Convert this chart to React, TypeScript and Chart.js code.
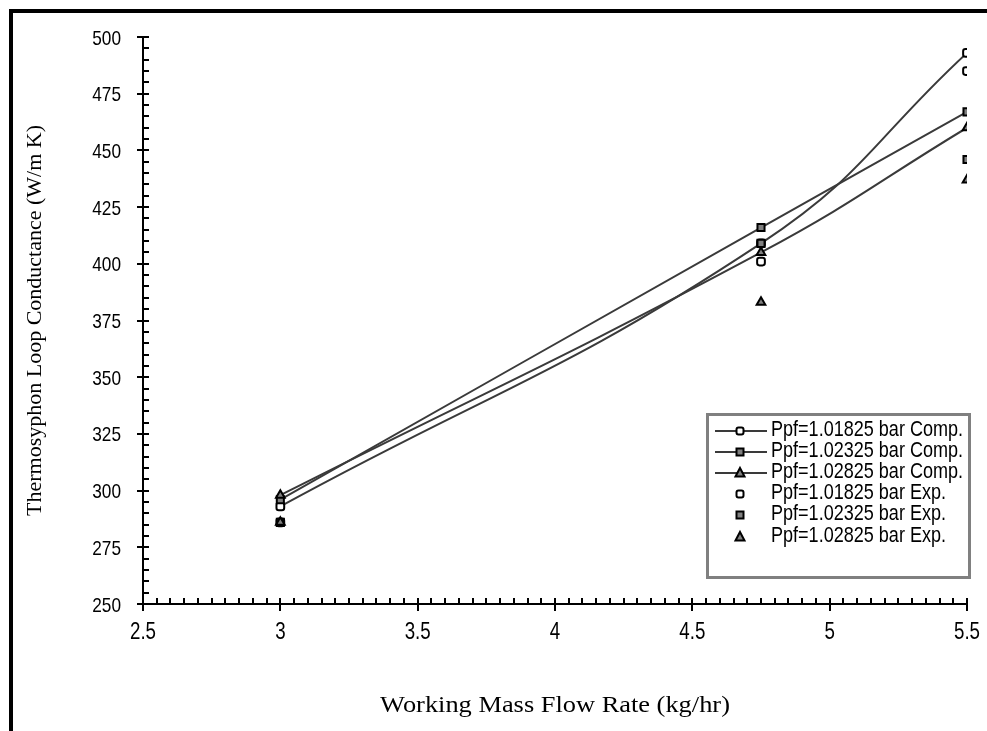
import React, { useEffect, useRef } from 'react';
import { Chart, registerables } from 'chart.js';
Chart.register(...registerables);

const xValues = [3, 4.75, 5.5];
const comp101825 = [293, 409, 493];
const comp102325 = [296, 416, 467];
const comp102825 = [298, 405, 460];
const exp101825 = [286, 401, 485];
const exp102325 = [286, 409, 446];
const exp102825 = [286, 383, 437];
const seriesLabels = [
  'Ppf=1.01825 bar Comp.',
  'Ppf=1.02325 bar Comp.',
  'Ppf=1.02825 bar Comp.',
  'Ppf=1.01825 bar Exp.',
  'Ppf=1.02325 bar Exp.',
  'Ppf=1.02825 bar Exp.',
];
const xTitle = 'Working Mass Flow Rate (kg/hr)';
const yTitle = 'Thermosyphon Loop Conductance (W/m K)';
const xMin = 2.5, xMax = 5.5, xStep = 0.5, xMinor = 0.05;
const yMin = 250, yMax = 500, yStep = 25, yMinor = 5;

const SANS = "'Liberation Sans', Arial, sans-serif";
const SERIF = "'Liberation Serif', 'Times New Roman', serif";
const LINE = '#3a3a3a';
const GRAY = '#808080';

const toPts = (ys: number[]) => xValues.map((x, i) => ({ x, y: ys[i] }));

type Marker = 'rectRounded' | 'rect' | 'triangle';
const markers: Marker[] = ['rectRounded', 'rect', 'triangle', 'rectRounded', 'rect', 'triangle'];
const fills = ['#ffffff', GRAY, GRAY, '#ffffff', GRAY, GRAY];
const radii = [4.5, 5, 5, 4.5, 5, 5];

function drawMarker(ctx: CanvasRenderingContext2D, kind: Marker, x: number, y: number, fill: string) {
  ctx.save();
  ctx.fillStyle = fill;
  ctx.strokeStyle = '#000';
  ctx.lineWidth = 2;
  ctx.beginPath();
  if (kind === 'rect') {
    ctx.rect(x - 3.5, y - 3.5, 7, 7);
  } else if (kind === 'rectRounded') {
    const s = 3.5, r = 2;
    ctx.moveTo(x - s + r, y - s);
    ctx.arcTo(x + s, y - s, x + s, y + s, r);
    ctx.arcTo(x + s, y + s, x - s, y + s, r);
    ctx.arcTo(x - s, y + s, x - s, y - s, r);
    ctx.arcTo(x - s, y - s, x + s, y - s, r);
    ctx.closePath();
  } else {
    ctx.moveTo(x, y - 5);
    ctx.lineTo(x + 4.5, y + 3.5);
    ctx.lineTo(x - 4.5, y + 3.5);
    ctx.closePath();
  }
  ctx.fill();
  ctx.stroke();
  ctx.restore();
}

function drawText(
  ctx: CanvasRenderingContext2D, text: string, x: number, y: number,
  font: string, sx: number, align: CanvasTextAlign,
) {
  ctx.save();
  ctx.translate(x, y);
  ctx.scale(sx, 1);
  ctx.font = font;
  ctx.textAlign = align;
  ctx.textBaseline = 'alphabetic';
  ctx.fillStyle = '#000';
  ctx.fillText(text, 0, 0);
  ctx.restore();
}

const fmt = (v: number) => String(Math.round(v * 100) / 100);

const axesPlugin = {
  id: 'customAxes',
  afterDraw(chart: any) {
    const ctx: CanvasRenderingContext2D = chart.ctx;
    const xs = chart.scales.x;
    const ys = chart.scales.y;
    const { left, right, top, bottom } = chart.chartArea;
    ctx.save();
    ctx.strokeStyle = '#000';
    ctx.lineWidth = 2;
    ctx.beginPath();
    ctx.moveTo(left, top);
    ctx.lineTo(left, bottom);
    ctx.moveTo(left, bottom);
    ctx.lineTo(right + 1, bottom);
    const ny = Math.round((yMax - yMin) / yMinor);
    for (let i = 0; i <= ny; i++) {
      const v = yMin + i * yMinor;
      const y = Math.round(ys.getPixelForValue(v));
      const major = i % Math.round(yStep / yMinor) === 0;
      ctx.moveTo(major ? left - 6 : left, y);
      ctx.lineTo(left + 6, y);
    }
    const nx = Math.round((xMax - xMin) / xMinor);
    for (let i = 0; i <= nx; i++) {
      const v = xMin + i * xMinor;
      const x = Math.round(xs.getPixelForValue(v));
      const major = i % Math.round(xStep / xMinor) === 0;
      ctx.moveTo(x, bottom - 6);
      ctx.lineTo(x, major ? bottom + 7 : bottom);
    }
    ctx.stroke();

    ys.ticks.forEach((t: any) => {
      const y = ys.getPixelForValue(t.value);
      drawText(ctx, fmt(t.value), left - 22, y + 7.5, `21px ${SANS}`, 0.82, 'right');
    });
    xs.ticks.forEach((t: any) => {
      const x = xs.getPixelForValue(t.value);
      drawText(ctx, fmt(t.value), x, bottom + 35, `24px ${SANS}`, 0.78, 'center');
    });
    drawText(ctx, xTitle, (left + right) / 2, 712, `24px ${SERIF}`, 1.1, 'center');

    // legend
    const bx = 707, by = 414, bw = 262, bh = 163;
    ctx.fillStyle = '#fff';
    ctx.fillRect(bx, by, bw, bh);
    ctx.strokeStyle = GRAY;
    ctx.lineWidth = 3;
    ctx.strokeRect(bx + 0.5, by + 0.5, bw, bh);
    const rows = [428, 449, 470, 491, 512, 534];
    chart.data.datasets.forEach((ds: any, i: number) => {
      const y = rows[i];
      if (ds.showLine) {
        ctx.strokeStyle = LINE;
        ctx.lineWidth = 2;
        ctx.beginPath();
        ctx.moveTo(715, y + 3);
        ctx.lineTo(767, y + 3);
        ctx.stroke();
      }
      drawMarker(ctx, markers[i], 740, y + 3, fills[i]);
      drawText(ctx, ds.label, 771, y + 8, `22px ${SANS}`, 0.82, 'left');
    });
    ctx.restore();
  },
};

export default function App() {
  const ref = useRef<HTMLCanvasElement | null>(null);
  useEffect(() => {
    if (!ref.current) return;
    const series = [comp101825, comp102325, comp102825, exp101825, exp102325, exp102825];
    const orders = [5, 4, 3, 2, 1, 0];
    const chart = new Chart(ref.current, {
      type: 'scatter',
      data: {
        datasets: series.map((s, i) => ({
          label: seriesLabels[i],
          data: toPts(s),
          showLine: i < 3,
          tension: 0.45,
          borderColor: i < 3 ? LINE : '#000',
          borderWidth: 2,
          pointStyle: markers[i],
          pointRadius: radii[i],
          pointBorderColor: '#000',
          pointBorderWidth: 2,
          pointBackgroundColor: fills[i],
          order: orders[i],
        })),
      },
      options: {
        animation: false,
        responsive: false,
        events: [],
        layout: { padding: { top: 37, right: 20, left: 0, bottom: 0 } },
        plugins: { legend: { display: false }, tooltip: { enabled: false } },
        scales: {
          x: {
            type: 'linear',
            min: xMin,
            max: xMax,
            grid: { display: false, drawTicks: false },
            border: { display: false },
            ticks: { stepSize: xStep, display: false },
            afterFit: (s: any) => { s.height = 127; },
          },
          y: {
            type: 'linear',
            min: yMin,
            max: yMax,
            grid: { display: false, drawTicks: false },
            border: { display: false },
            ticks: { stepSize: yStep, display: false },
            title: {
              display: true,
              text: yTitle,
              color: '#000',
              font: { family: SERIF, size: 22 },
              padding: { top: 22, bottom: 0 },
            },
            afterFit: (s: any) => { s.width = 143; },
          },
        },
      },
      plugins: [axesPlugin],
    });
    return () => chart.destroy();
  }, []);

  return (
    <div style={{ position: 'fixed', left: 0, top: 0, width: 987, height: 731, overflow: 'hidden', background: '#fff' }}>
      <div style={{ position: 'absolute', left: 9, top: 9, width: 1400, height: 1400, border: '4px solid #000', boxSizing: 'border-box' }} />
      <canvas ref={ref} width={987} height={731} style={{ position: 'absolute', left: 0, top: 0, width: 987, height: 731 }} />
    </div>
  );
}
